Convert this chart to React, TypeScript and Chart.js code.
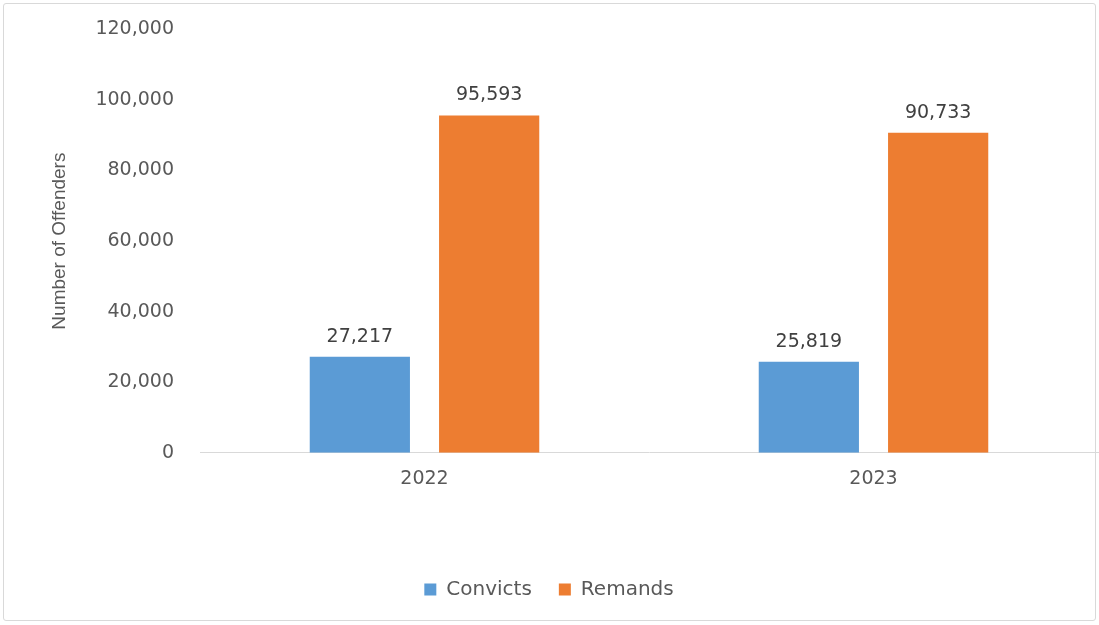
import React, { useEffect, useRef } from "react";
import { Chart, registerables } from "chart.js";

Chart.register(...registerables);

const categories = ["2022", "2023"];
const convicts = [27217, 25819];
const remands = [95593, 90733];
const seriesNames = ["Convicts", "Remands"];
const yMin = 0;
const yMax = 120000;
const yStep = 20000;

const fmt = (v: number) => v.toLocaleString("en-US");

const dataLabelPlugin = {
  id: "dataLabels",
  afterDatasetsDraw(chart: any) {
    const ctx = chart.ctx;
    ctx.save();
    ctx.font = "19px 'DejaVu Sans'";
    ctx.fillStyle = "#404040";
    ctx.textAlign = "center";
    ctx.textBaseline = "middle";
    chart.data.datasets.forEach((ds: any, i: number) => {
      const meta = chart.getDatasetMeta(i);
      meta.data.forEach((el: any, j: number) => {
        ctx.fillText(fmt(ds.data[j]), el.x, el.y - 20);
      });
    });
    ctx.restore();
  },
};

export default function App() {
  const ref = useRef<HTMLCanvasElement | null>(null);

  useEffect(() => {
    if (!ref.current) return;
    const chart = new Chart(ref.current, {
      type: "bar",
      data: {
        labels: categories,
        datasets: [
          {
            label: seriesNames[0],
            data: convicts,
            backgroundColor: "#5B9BD5",
            categoryPercentage: 0.576,
            barPercentage: 0.775,
          },
          {
            label: seriesNames[1],
            data: remands,
            backgroundColor: "#ED7D31",
            categoryPercentage: 0.576,
            barPercentage: 0.775,
          },
        ],
      },
      options: {
        animation: false,
        responsive: false,
        maintainAspectRatio: false,
        layout: { padding: { top: 12, bottom: 15.6, left: 0, right: 1 } },
        plugins: {
          legend: {
            position: "bottom",
            labels: {
              boxWidth: 12,
              boxHeight: 12,
              padding: 27,
              color: "#595959",
              font: { family: "'DejaVu Sans'", size: 20 },
            },
          },
          tooltip: { enabled: false },
        },
        scales: {
          x: {
            grid: { display: false },
            border: { display: true, color: "#d9d9d9", width: 1 },
            ticks: {
              color: "#595959",
              font: { family: "'DejaVu Sans'", size: 19 },
              padding: 7,
            },
            afterFit: (scale: any) => {
              scale.height = 99.6;
            },
          },
          y: {
            min: yMin,
            max: yMax,
            grid: { display: false },
            border: { display: false },
            ticks: {
              stepSize: yStep,
              color: "#595959",
              font: { family: "'DejaVu Sans'", size: 19 },
              padding: 18,
              callback: (v: any) => fmt(Number(v)),
            },
            title: {
              display: true,
              text: "Number of Offenders",
              color: "#595959",
              font: { family: "'Liberation Sans'", size: 19 },
              padding: { top: 48, bottom: 0 },
            },
            afterFit: (scale: any) => {
              scale.width = 200;
            },
          },
        },
      },
      plugins: [dataLabelPlugin],
    });
    return () => chart.destroy();
  }, []);

  return (
    <div
      style={{
        position: "fixed",
        left: 0,
        top: 0,
        width: 1099,
        height: 625,
        background: "#ffffff",
      }}
    >
      <div
        style={{
          position: "absolute",
          left: 3,
          top: 3,
          width: 1093,
          height: 618,
          border: "1px solid #d9d9d9",
          boxSizing: "border-box",
          borderRadius: 3,
        }}
      />
      <canvas
        ref={ref}
        width={1099}
        height={625}
        style={{ position: "absolute", left: 0, top: 0, width: 1099, height: 625 }}
      />
    </div>
  );
}
